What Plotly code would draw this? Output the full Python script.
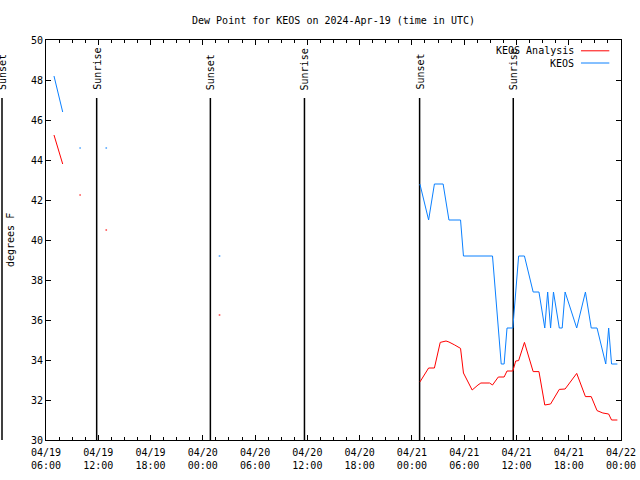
import plotly.graph_objects as go
import pandas as pd

# ---------------- data ----------------
title_text = "Dew Point for KEOS on 2024-Apr-19 (time in UTC)"
y_label = "degrees F"
series_names = ["KEOS Analysis", "KEOS"]
series_colors = ["#ff0000", "#0a80ff"]

x_start = "2024-04-19 06:00"
x_end = "2024-04-22 00:00"
y_min, y_max, y_step = 30, 50, 2

# KEOS observations (None = gap in record)
obs_times = [
    "2024-04-19 06:55", "2024-04-19 07:55", "2024-04-19 08:55",
    "2024-04-19 09:55", "2024-04-19 10:55",
    "2024-04-19 12:55", "2024-04-19 13:55",
    "2024-04-20 01:55", "2024-04-20 02:55",
    "2024-04-21 00:55", "2024-04-21 01:55", "2024-04-21 02:35", "2024-04-21 03:35",
    "2024-04-21 04:15", "2024-04-21 05:35", "2024-04-21 05:55", "2024-04-21 09:15",
    "2024-04-21 10:15", "2024-04-21 10:35", "2024-04-21 10:55", "2024-04-21 11:35",
    "2024-04-21 12:15", "2024-04-21 12:55", "2024-04-21 13:55", "2024-04-21 14:35",
    "2024-04-21 15:15", "2024-04-21 15:35", "2024-04-21 15:55", "2024-04-21 16:15",
    "2024-04-21 16:55", "2024-04-21 17:15", "2024-04-21 17:35", "2024-04-21 18:55",
    "2024-04-21 19:55", "2024-04-21 20:35", "2024-04-21 21:15", "2024-04-21 22:15",
    "2024-04-21 22:35", "2024-04-21 22:55", "2024-04-21 23:35",
]
obs_dewpt = [
    48.2, 46.4, None,
    44.6, None,
    44.6, None,
    39.2, None,
    42.8, 41.0, 42.8, 42.8,
    41.0, 41.0, 39.2, 39.2,
    33.8, 33.8, 35.6, 35.6,
    39.2, 39.2, 37.4, 37.4,
    35.6, 37.4, 35.6, 37.4,
    35.6, 35.6, 37.4, 35.6,
    37.4, 35.6, 35.6, 33.8,
    35.6, 33.8, 33.8,
]

# KEOS analysis
ana_times = [
    "2024-04-19 06:55", "2024-04-19 07:55", "2024-04-19 08:55",
    "2024-04-19 09:55", "2024-04-19 10:55",
    "2024-04-19 12:55", "2024-04-19 13:55",
    "2024-04-20 01:55", "2024-04-20 02:55",
    "2024-04-21 00:55", "2024-04-21 01:55", "2024-04-21 02:35", "2024-04-21 03:15",
    "2024-04-21 03:55", "2024-04-21 04:15", "2024-04-21 04:55", "2024-04-21 05:35",
    "2024-04-21 05:55", "2024-04-21 06:55", "2024-04-21 07:35", "2024-04-21 07:55",
    "2024-04-21 08:55", "2024-04-21 09:15", "2024-04-21 09:55", "2024-04-21 10:35",
    "2024-04-21 10:55", "2024-04-21 11:35", "2024-04-21 11:55", "2024-04-21 12:15",
    "2024-04-21 12:55", "2024-04-21 13:55", "2024-04-21 14:35", "2024-04-21 15:15",
    "2024-04-21 15:55", "2024-04-21 16:55", "2024-04-21 17:35", "2024-04-21 18:55",
    "2024-04-21 19:55", "2024-04-21 20:35", "2024-04-21 21:15", "2024-04-21 21:55",
    "2024-04-21 22:35", "2024-04-21 22:55", "2024-04-21 23:35",
]
ana_dewpt = [
    45.25, 43.8, None,
    42.25, None,
    40.5, None,
    36.25, None,
    32.9, 33.6, 33.6, 34.88,
    34.95, 34.9, 34.75, 34.58,
    33.35, 32.5, 32.75, 32.85,
    32.85, 32.75, 33.15, 33.15,
    33.45, 33.45, 33.95, 33.97,
    34.88, 33.42, 33.42, 31.75,
    31.8, 32.53, 32.55, 33.33,
    32.17, 32.17, 31.47, 31.35,
    31.3, 31.0, 31.0,
]

sun_labels = ["Sunset", "Sunrise", "Sunset", "Sunrise", "Sunset", "Sunrise"]
sun_times = ["2024-04-19 00:57", "2024-04-19 11:49", "2024-04-20 00:52",
             "2024-04-20 11:40", "2024-04-21 00:53", "2024-04-21 11:38"]

# ---------------- figure ----------------
FONT = "DejaVu Sans Mono"


def isolated_sizes(vals):
    sizes = []
    for i, v in enumerate(vals):
        prev_ok = i > 0 and vals[i - 1] is not None
        next_ok = i < len(vals) - 1 and vals[i + 1] is not None
        sizes.append(1.6 if (v is not None and not prev_ok and not next_ok) else 0)
    return sizes


fig = go.Figure()
for name, color, xs, ys in [
    (series_names[0], series_colors[0], ana_times, ana_dewpt),
    (series_names[1], series_colors[1], obs_times, obs_dewpt),
]:
    fig.add_trace(go.Scatter(
        x=xs, y=ys, name=name, mode="lines+markers",
        line=dict(color=color, width=1),
        marker=dict(size=isolated_sizes(ys), color=color, symbol="square", line=dict(width=0)),
        connectgaps=False, showlegend=False,
    ))

t0 = pd.Timestamp(x_start)
t1 = pd.Timestamp(x_end)
span = (t1 - t0).total_seconds()

shapes = []
annotations = []
for lab, t in zip(sun_labels, sun_times):
    fx = (pd.Timestamp(t) - t0).total_seconds() / span
    shapes.append(dict(type="line", xref="paper", yref="paper", x0=fx, x1=fx,
                       y0=0, y1=0.855, line=dict(color="black", width=1.5), layer="below"))
    annotations.append(dict(text=lab, xref="paper", yref="paper", x=fx, y=0.87,
                            xanchor="center", yanchor="bottom", textangle=-90,
                            showarrow=False, font=dict(family=FONT, size=10, color="black")))

# manual key (gnuplot style: text then line sample)
key_y = [0.973, 0.9425]
for name, color, ky in zip(series_names, series_colors, key_y):
    annotations.append(dict(text=name, xref="paper", yref="paper", x=0.921, y=ky,
                            xanchor="right", yanchor="middle", showarrow=False,
                            font=dict(family=FONT, size=10, color="black")))
    shapes.append(dict(type="line", xref="paper", yref="paper", x0=0.9304, x1=0.9797,
                       y0=ky, y1=ky, line=dict(color=color, width=1)))

annotations.append(dict(text=y_label, xref="paper", yref="paper", x=-0.0626, y=0.5,
                        xanchor="center", yanchor="middle", textangle=-90,
                        showarrow=False, font=dict(family=FONT, size=10, color="black")))

fig.update_layout(
    width=640, height=480,
    margin=dict(l=46, r=19, t=40, b=40, autoexpand=False),
    paper_bgcolor="white", plot_bgcolor="white",
    title=dict(text=title_text, x=0.5, xref="paper", xanchor="center",
               y=1 - 20 / 480, yref="container", yanchor="middle",
               font=dict(family=FONT, size=10, color="black")),
    shapes=shapes, annotations=annotations,
    showlegend=False,
    xaxis=dict(type="date", range=[x_start, x_end], tickformat="%m/%d<br>%H:%M",
               tick0="2024-04-19 00:00", dtick=6 * 3600 * 1000,
               ticks="inside", ticklen=5, tickcolor="black", tickwidth=1,
               showline=True, linecolor="black", linewidth=1, mirror="allticks",
               showgrid=False, zeroline=False, ticklabelstandoff=3,
               minor=dict(dtick=1.5 * 3600 * 1000, ticks="inside", ticklen=3,
                          tickcolor="black", showgrid=False),
               tickfont=dict(family=FONT, size=10, color="black")),
    yaxis=dict(range=[y_min, y_max], dtick=y_step, tick0=y_min,
               ticks="inside", ticklen=5, tickcolor="black", tickwidth=1,
               showline=True, linecolor="black", linewidth=1, mirror="allticks",
               showgrid=False, zeroline=False,
               tickfont=dict(family=FONT, size=10, color="black")),
)

fig.write_html("out.html")
